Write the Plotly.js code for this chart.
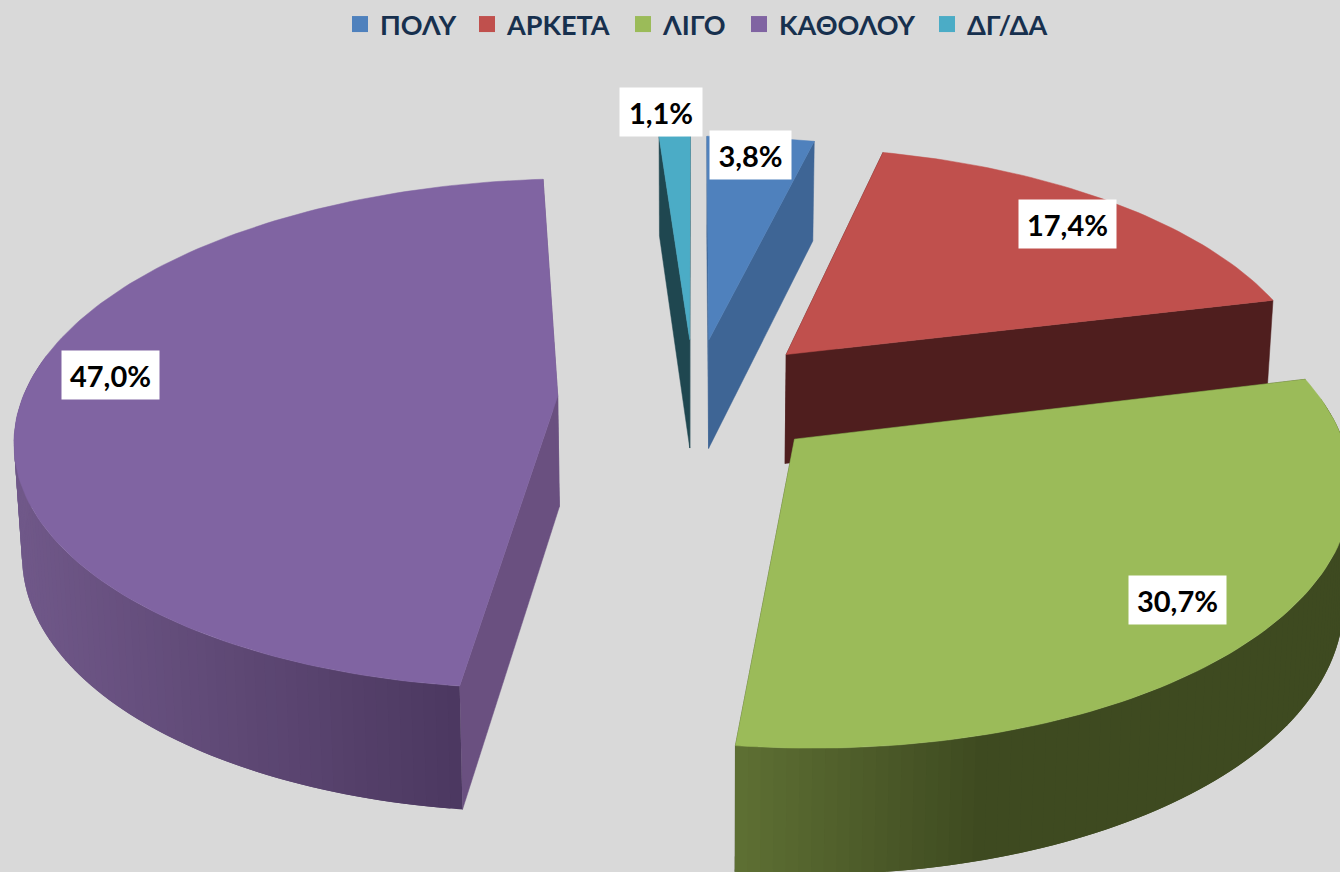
<!DOCTYPE html>
<html>
<head>
<meta charset="utf-8">
<script src="https://cdn.plot.ly/plotly-3.0.1.min.js"></script>
<style>html,body{margin:0;padding:0;background:#d9d9d9;overflow:hidden}</style>
</head>
<body>
<div id="chart" style="width:1340px;height:872px"></div>
<script>
// Data
const categories = ['ΠΟΛΥ', 'ΑΡΚΕΤΑ', 'ΛΙΓΟ', 'ΚΑΘΟΛΟΥ', 'ΔΓ/ΔΑ'];
const values = [3.8, 17.4, 30.7, 47.0, 1.1];
const valueLabels = ['3,8%', '17,4%', '30,7%', '47,0%', '1,1%'];

// Styling
const faceColors = ['#4F81BD', '#C0504D', '#9BBB59', '#8064A2', '#4BACC6'];
const edgeColors = ['#3E6595', '#4F1E1E', '#3E4A20', '#6A5080', '#1F4750'];
const wallLeft   = ['#3E6595', '#4F1E1E', '#5E7033', '#705889', '#1F4750'];
const wallRight  = ['#3E6595', '#4F1E1E', '#3E4A20', '#4C3860', '#1F4750'];
const wallFlatAt = [1, 1, 0.40, 1, 1];
const explodeBy  = [0.24, 0.25, 0.245, 0.255, 0.24];
const labelPos = [[750, 154], [1067, 223], [1177, 600], [110, 374], [661, 111]];
const labelWidth = [81, 97, 97, 97, 82];
const legendTextX = [383, 510, 666, 782, 970];
const drawOrder = [4, 0, 1, 3, 2];

// Projection of the exploded tilted pie onto the page (pixel-valued axes)
const CX = 694, CY = 397, SX = 535, SY = 250, PERSP = 0.148, DEPTH_A = 37, DEPTH_B = 74, SHRINK = 0.012;
function project(X, Y, low) {
  const w = 1 / (1 + PERSP * Y);
  let x = CX + SX * X * w, y = CY - SY * Y * w;
  if (low) { x += (CX - x) * SHRINK; y += DEPTH_A + DEPTH_B * w; }
  return [x, y];
}
const total = values.reduce((a, b) => a + b, 0);
function hex(c) { return [1, 3, 5].map(i => parseInt(c.substr(i, 2), 16)); }
function mix(a, b, t) {
  const A = hex(a), B = hex(b);
  return 'rgb(' + A.map((v, i) => Math.round(v + (B[i] - v) * t)).join(',') + ')';
}
function poly(pts, color, lw) {
  return { type: 'scatter', mode: 'lines', x: pts.map(p => p[0]).concat(pts[0][0]), y: pts.map(p => p[1]).concat(pts[0][1]),
    fill: 'toself', fillcolor: color, line: { color: color, width: lw }, showlegend: false, hoverinfo: 'skip' };
}

const slices = [];
let acc = 0;
values.forEach((v, i) => {
  const a0 = acc / total * 2 * Math.PI, a1 = (acc + v) / total * 2 * Math.PI;
  acc += v;
  const mid = (a0 + a1) / 2;
  slices[i] = { a0, a1, ox: explodeBy[i] * Math.sin(mid), oy: explodeBy[i] * Math.cos(mid) };
});

const traces = [];
drawOrder.forEach(i => {
  const s = slices[i];
  const pt = (a, low) => project(s.ox + Math.sin(a), s.oy + Math.cos(a), low);
  const apex = low => project(s.ox, s.oy, low);
  // radial walls
  [s.a0, s.a1].forEach(a => traces.push(poly([apex(false), pt(a, false), pt(a, true), apex(true)], edgeColors[i], 0.5)));
  // outer wall, in small shaded strips that overlap so no seams show
  const steps = Math.max(2, Math.ceil((s.a1 - s.a0) / 0.02));
  let xMin = Infinity, xMax = -Infinity;
  for (let k = 0; k <= steps; k++) {
    const a = s.a0 + (s.a1 - s.a0) * k / steps;
    if (Math.cos(a) < 0.15) { const x = pt(a, true)[0]; xMin = Math.min(xMin, x); xMax = Math.max(xMax, x); }
  }
  const da = (s.a1 - s.a0) / steps;
  for (let k = 0; k < steps; k++) {
    const a = s.a0 + da * k, b = Math.min(s.a1, a + 2 * da);
    if (Math.cos(a + da / 2) >= 0.15) continue;
    const xm = (pt(a, true)[0] + pt(a + da, true)[0]) / 2;
    const t = Math.min(1, (xm - xMin) / (xMax - xMin) / wallFlatAt[i]);
    traces.push(poly([pt(a, false), pt(a + da / 2, false), pt(b, false), pt(b, true), pt(a + da / 2, true), pt(a, true)],
      mix(wallLeft[i], wallRight[i], t), 0));
  }
  // top face
  const top = [apex(false)];
  for (let k = 0; k <= steps; k++) top.push(pt(s.a0 + da * k, false));
  traces.push(poly(top, faceColors[i], 0.5));
});

// legend entries: one small legend per category
const legendFont = { family: 'Lato, "Noto Sans", sans-serif', size: 27, color: '#17304E', weight: 'bold' };
const layoutLegends = {};
categories.forEach((c, i) => {
  const id = i === 0 ? 'legend' : 'legend' + (i + 1);
  traces.push({
    type: 'scatter', mode: 'markers', name: c, x: [-500], y: [-500], legend: id, showlegend: true,
    marker: { symbol: 'square', size: 20, color: faceColors[i] }, hoverinfo: 'skip'
  });
  layoutLegends[id] = { x: (legendTextX[i] - 43) / 1340, xanchor: 'left', y: 1.001, yanchor: 'top',
    bgcolor: 'rgba(0,0,0,0)', font: legendFont, itemwidth: 30 };
});

const annotations = valueLabels.map((t, i) => ({
  x: labelPos[i][0], y: labelPos[i][1], xref: 'x', yref: 'y', text: '<b>' + t + '</b>', showarrow: false,
  font: { family: 'Lato, "Noto Sans", sans-serif', size: 29, color: '#000000' },
  bgcolor: '#FFFFFF', borderpad: 0, width: labelWidth[i], height: 48, align: 'center', valign: 'middle',
  xanchor: 'center', yanchor: 'middle'
}));

const layout = Object.assign({
  width: 1340, height: 872,
  margin: { l: 0, r: 0, t: 0, b: 0 },
  paper_bgcolor: '#D9D9D9', plot_bgcolor: '#D9D9D9',
  xaxis: { range: [0, 1340], visible: false, fixedrange: true },
  yaxis: { range: [872, 0], visible: false, fixedrange: true },
  showlegend: true,
  annotations
}, layoutLegends);
Plotly.newPlot('chart', traces, layout, { staticPlot: true, displayModeBar: false });
</script>
</body>
</html>
